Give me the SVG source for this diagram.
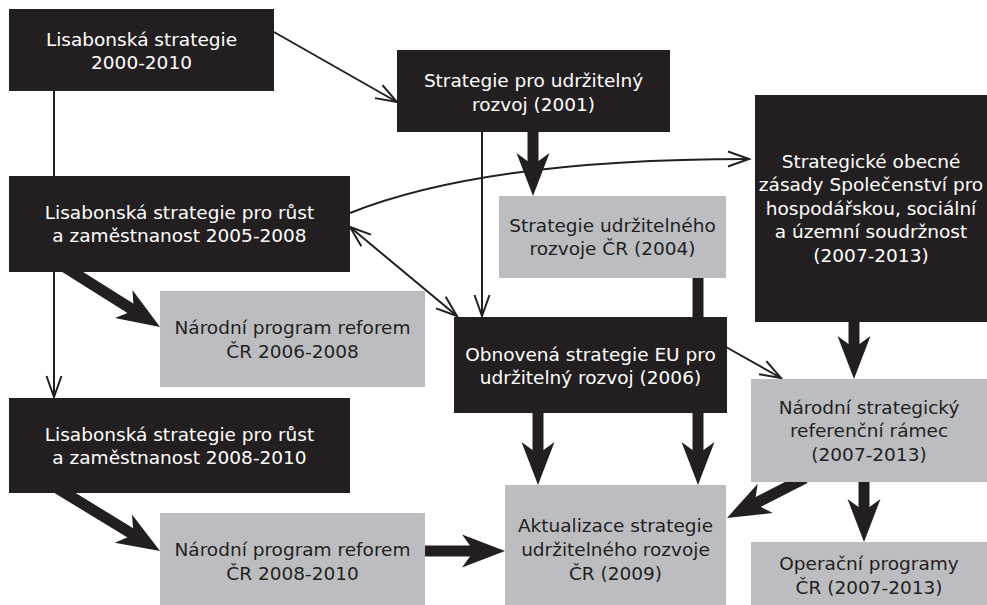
<svg xmlns="http://www.w3.org/2000/svg" width="987" height="605" viewBox="0 0 987 605">
<style>
.dark{fill:#231f20}
.light{fill:#bcbdc0}
.t{font-family:"DejaVu Sans","Verdana",sans-serif;font-size:18.5px;text-anchor:middle}
.dark+text,.tw{fill:#ffffff}
.tb{fill:#231f20}
.thin{fill:none;stroke:#231f20;stroke-width:2}
.thick{fill:none;stroke:#231f20;stroke-width:11}
</style>
<defs>
<marker id="open" markerUnits="userSpaceOnUse" orient="auto-start-reverse" refX="0" refY="0" markerWidth="24" markerHeight="20" overflow="visible">
<path d="M-21,-7.5 L0,0 L-21,7.5" fill="none" stroke="#231f20" stroke-width="2"/>
</marker>
<marker id="bold" markerUnits="userSpaceOnUse" orient="auto" refX="14" refY="0" markerWidth="44" markerHeight="34" overflow="visible">
<path d="M43,0 L0,-16.5 L12,0 L0,16.5 Z" fill="#231f20"/>
</marker>
</defs>
<rect width="987" height="605" fill="#ffffff"/>
<g id="connectors">
<line class="thin" x1="274" y1="32" x2="397" y2="102" marker-end="url(#open)"/>
<line class="thin" x1="54" y1="90" x2="54" y2="177"/>
<line class="thin" x1="54" y1="271" x2="54" y2="397" marker-end="url(#open)"/>
<line class="thin" x1="482" y1="131" x2="482" y2="316" marker-end="url(#open)"/>
<path class="thin" d="M350,213 Q485,159 749,159" marker-end="url(#open)"/>
<line class="thin" x1="350" y1="227" x2="457" y2="316" marker-start="url(#open)" marker-end="url(#open)"/>
<line class="thin" x1="726" y1="347" x2="781" y2="378" marker-end="url(#open)"/>
<line class="thick" x1="533" y1="128" x2="533" y2="167" marker-end="url(#bold)"/>
<line class="thick" x1="60" y1="264" x2="135.5" y2="311.5" marker-end="url(#bold)"/>
<line class="thick" x1="52" y1="485" x2="135.3" y2="535.9" marker-end="url(#bold)"/>
<line class="thick" x1="420" y1="551" x2="476" y2="551" marker-end="url(#bold)"/>
<line class="thick" x1="538" y1="410" x2="538" y2="456" marker-end="url(#bold)"/>
<line class="thick" x1="698" y1="274" x2="698" y2="320"/>
<line class="thick" x1="698" y1="410" x2="698" y2="456" marker-end="url(#bold)"/>
<line class="thick" x1="854" y1="318" x2="854" y2="350" marker-end="url(#bold)"/>
<line class="thick" x1="864" y1="478" x2="864" y2="513" marker-end="url(#bold)"/>
<line class="thick" x1="805" y1="478" x2="752.8" y2="504.7" marker-end="url(#bold)"/>
</g>
<g id="n1"><rect class="dark" x="9" y="9" width="265" height="82"/>
<text class="t tw" x="141.5"><tspan x="141.5" y="45.5">Lisabonská strategie</tspan><tspan x="141.5" y="69">2000-2010</tspan></text></g>
<g id="n2"><rect class="dark" x="397" y="50" width="273" height="82"/>
<text class="t tw"><tspan x="533.5" y="87">Strategie pro udržitelný</tspan><tspan x="533.5" y="110.5">rozvoj (2001)</tspan></text></g>
<g id="n3"><rect class="dark" x="9" y="176" width="341" height="96"/>
<text class="t tw"><tspan x="179.5" y="218.5">Lisabonská strategie pro růst</tspan><tspan x="179.5" y="242">a zaměstnanost 2005-2008</tspan></text></g>
<g id="n4"><rect class="light" x="499" y="196" width="227" height="82"/>
<text class="t tb"><tspan x="612.5" y="231.5">Strategie udržitelného</tspan><tspan x="612.5" y="255">rozvoje ČR (2004)</tspan></text></g>
<g id="n5"><rect class="dark" x="755" y="95" width="232" height="227"/>
<text class="t tw"><tspan x="871" y="167.5">Strategické obecné</tspan><tspan x="871" y="191">zásady Společenství pro</tspan><tspan x="871" y="214.5">hospodářskou, sociální</tspan><tspan x="871" y="238">a územní soudržnost</tspan><tspan x="871" y="261.5">(2007-2013)</tspan></text></g>
<g id="n6"><rect class="light" x="160" y="291" width="265" height="96"/>
<text class="t tb"><tspan x="292.5" y="334">Národní program reforem</tspan><tspan x="292.5" y="357.5">ČR 2006-2008</tspan></text></g>
<g id="n7"><rect class="dark" x="9" y="398" width="341" height="95"/>
<text class="t tw"><tspan x="179.5" y="440.5">Lisabonská strategie pro růst</tspan><tspan x="179.5" y="464">a zaměstnanost 2008-2010</tspan></text></g>
<g id="n8"><rect class="light" x="160" y="513" width="265" height="92"/>
<text class="t tb"><tspan x="292.5" y="556">Národní program reforem</tspan><tspan x="292.5" y="579.5">ČR 2008-2010</tspan></text></g>
<g id="n9"><rect class="dark" x="454" y="317" width="273" height="96"/>
<text class="t tw"><tspan x="590.5" y="360.5">Obnovená strategie EU pro</tspan><tspan x="590.5" y="384">udržitelný rozvoj (2006)</tspan></text></g>
<g id="n10"><rect class="light" x="751" y="379" width="236" height="103"/>
<text class="t tb"><tspan x="869" y="413.5">Národní strategický</tspan><tspan x="869" y="437">referenční rámec</tspan><tspan x="869" y="461">(2007-2013)</tspan></text></g>
<g id="n11"><rect class="light" x="505" y="485" width="221" height="120"/>
<text class="t tb"><tspan x="615.5" y="531.5">Aktualizace strategie</tspan><tspan x="615.5" y="555.5">udržitelného rozvoje</tspan><tspan x="615.5" y="579.5">ČR (2009)</tspan></text></g>
<g id="n12"><rect class="light" x="751" y="542" width="236" height="63"/>
<text class="t tb"><tspan x="869" y="570">Operační programy</tspan><tspan x="869" y="593.5">ČR (2007-2013)</tspan></text></g>
</svg>
